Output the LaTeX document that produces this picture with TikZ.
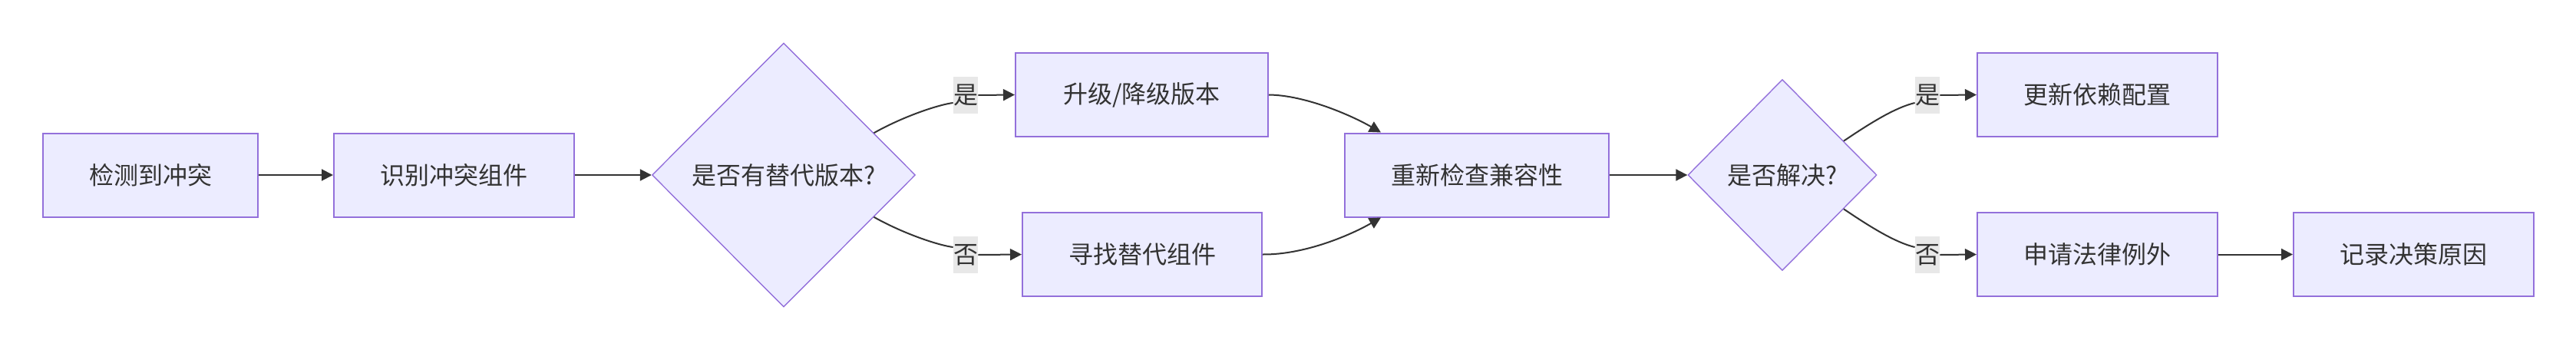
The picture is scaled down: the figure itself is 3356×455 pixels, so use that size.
\documentclass[tikz,border=0pt]{standalone}
\usepackage{fontspec}
\setmainfont{Noto Sans CJK SC}
\usepackage{tikz}
\usetikzlibrary{positioning,arrows.meta,shapes.geometric}
\definecolor{nodefill}{HTML}{ECECFF}
\definecolor{nodeline}{HTML}{9370DB}
\definecolor{ink}{HTML}{333333}
\definecolor{labelbg}{HTML}{E8E8E8}

\begin{document}
\begin{tikzpicture}[
    x=0.5pt, y=-0.5pt,
    >={Triangle[length=7.5pt,width=7.5pt]},
    box/.style={draw=nodeline, fill=nodefill, line width=1pt, minimum height=54.5pt, inner sep=0pt, font=\fontsize{16pt}{19pt}\selectfont, text=ink},
    choice/.style={diamond, draw=nodeline, fill=nodefill, line width=0.7pt, inner sep=0pt, font=\fontsize{16pt}{19pt}\selectfont, text=ink},
    tag/.style={fill=labelbg, minimum width=16pt, minimum height=24pt, inner sep=0pt, font=\fontsize{16pt}{19pt}\selectfont, text=ink},
    flow/.style={draw=ink, line width=1pt}
]
\useasboundingbox (0,0) rectangle (3356,455);

% main line
\node[box, minimum width=140pt] (detect) at (196,228) {检测到冲突};
\node[box, minimum width=156.5pt] (identify) at (591.5,228) {识别冲突组件};
\node[choice, minimum width=171.5pt, minimum height=172pt] (hasalt) at (1021,228) {是否有替代版本?};

% two ways out
\node[box, minimum width=164.5pt] (upgrade) at (1487.5,123.5) {升级/降级版本};
\node[box, minimum width=156pt] (findalt) at (1488,331.5) {寻找替代组件};
\node[box, minimum width=172pt] (recheck) at (1924,228) {重新检查兼容性};
\node[choice, minimum width=123pt, minimum height=124.5pt] (solved) at (2322,228) {是否解决?};
\node[box, minimum width=156.5pt] (update) at (2732.5,123.5) {更新依赖配置};
\node[box, minimum width=156.5pt] (exempt) at (2732.5,331.5) {申请法律例外};
\node[box, minimum width=156.5pt] (record) at (3144.5,331.5) {记录决策原因};

% edge labels
\node[tag] (yes1) at (1258,124) {是};
\node[tag] (no1) at (1258,332) {否};
\node[tag] (yes2) at (2511,124) {是};
\node[tag] (no2) at (2511,332) {否};

% connectors
\draw[flow,->] (detect) -- (identify);
\draw[flow,->] (identify) -- (hasalt);
\draw[flow] (hasalt.25) .. controls (1180,150) and (1225,136) .. ([yshift=-5pt]yes1.west);
\draw[flow,->] (yes1.east) -- (upgrade.west);
\draw[flow] (hasalt.-25) .. controls (1180,306) and (1225,320) .. ([yshift=5pt]no1.west);
\draw[flow,->] (no1.east) -- (findalt.west);
\draw[flow,->] (upgrade.east) .. controls (1700,124) and (1760,150) .. ([xshift=24pt]recheck.north west);
\draw[flow,->] (findalt.east) .. controls (1700,332) and (1760,306) .. ([xshift=24pt]recheck.south west);
\draw[flow,->] (recheck) -- (solved);
\draw[flow] (solved.29) .. controls (2440,158) and (2470,140) .. ([yshift=-5pt]yes2.west);
\draw[flow,->] (yes2.east) -- (update.west);
\draw[flow] (solved.-29) .. controls (2440,298) and (2470,316) .. ([yshift=5pt]no2.west);
\draw[flow,->] (no2.east) -- (exempt.west);
\draw[flow,->] (exempt) -- (record);
\end{tikzpicture}
\end{document}
